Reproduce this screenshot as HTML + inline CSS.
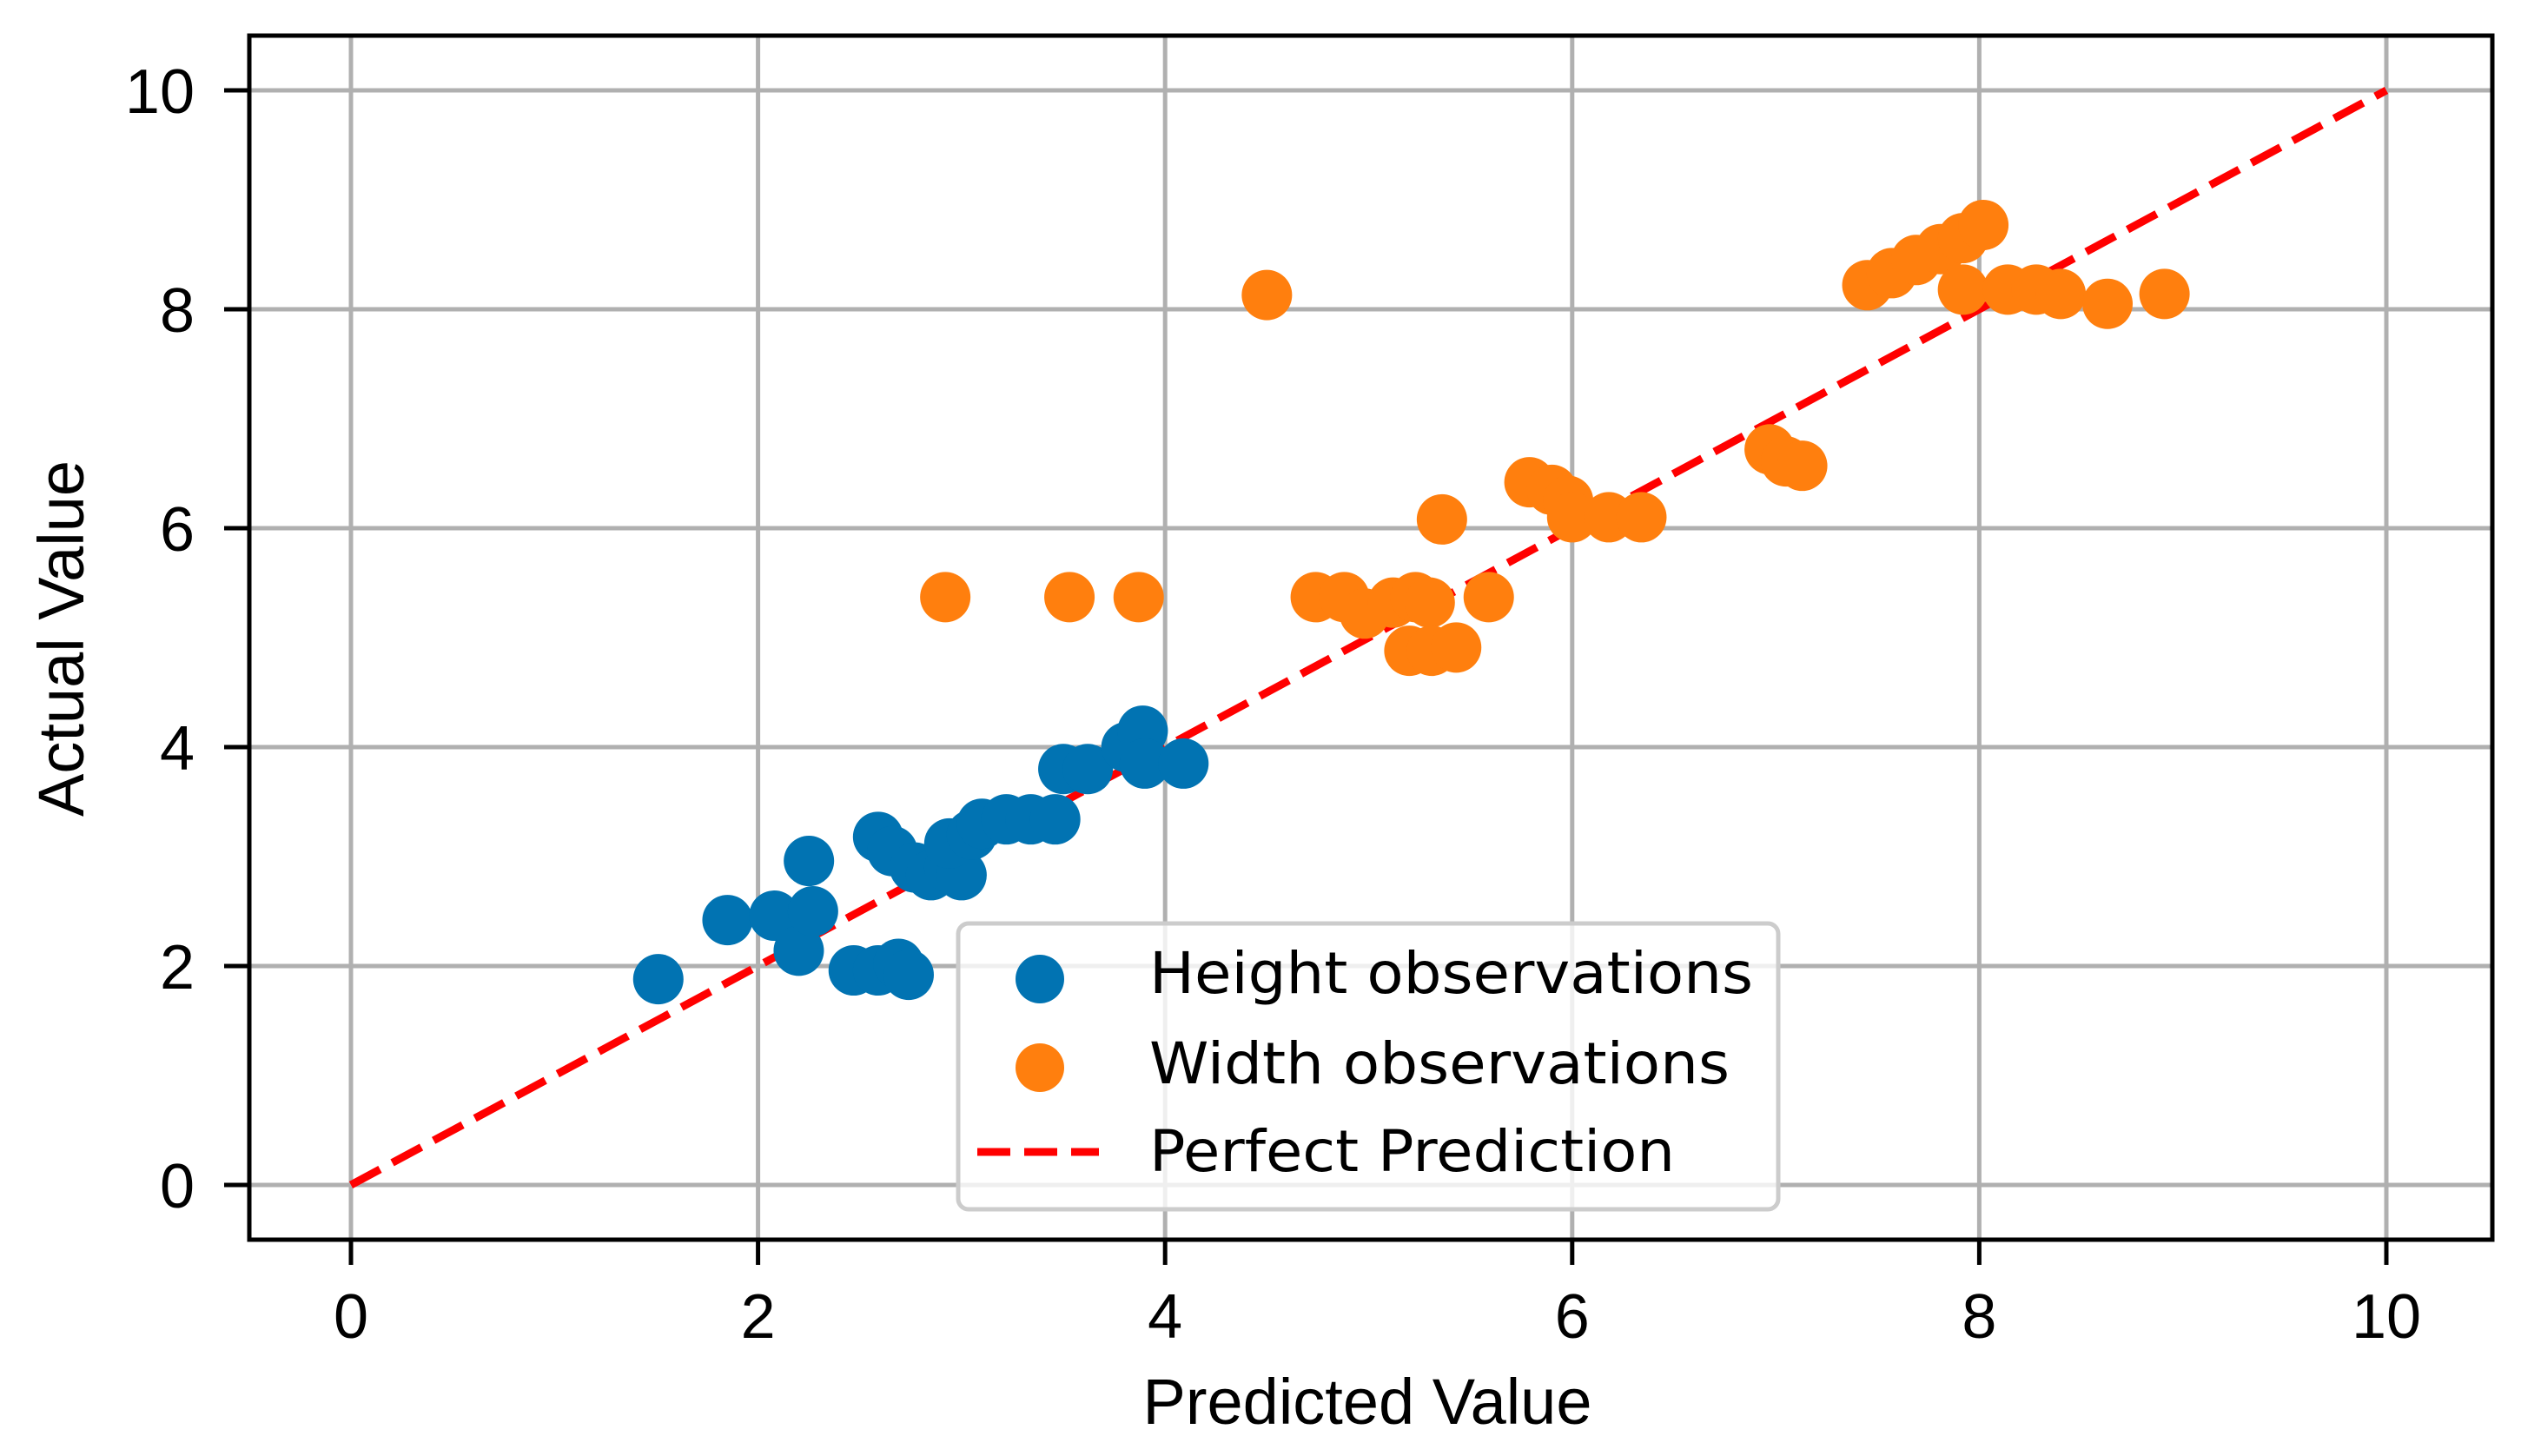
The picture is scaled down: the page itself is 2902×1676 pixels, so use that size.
<!DOCTYPE html>
<html><head><meta charset="utf-8"><style>
html,body{margin:0;padding:0;background:#fff;}
svg{display:block;}
text{font-family:"Liberation Sans",Arial,sans-serif;fill:#000;}
.leg{font-family:"DejaVu Sans","Liberation Sans",sans-serif;}
</style></head><body>
<svg id="chart" width="2902" height="1676" viewBox="0 0 2902 1676" xmlns="http://www.w3.org/2000/svg">
<g id="grid"></g>
<g id="line"></g>
<g id="pts"></g>
<rect x="287" y="41" width="2582" height="1386" fill="none" stroke="#000" stroke-width="5"/>
<g id="ticks"></g>
<text x="1574" y="1639" font-size="74" text-anchor="middle" textLength="517" lengthAdjust="spacingAndGlyphs">Predicted Value</text>
<text x="0" y="0" font-size="74" text-anchor="middle" transform="translate(96,735) rotate(-90)">Actual Value</text>
<g>
<rect x="1103" y="1063" width="944" height="329" rx="12" fill="#fff" fill-opacity="0.8" stroke="#ccc" stroke-width="5"/>
<circle cx="1197" cy="1127" r="28" fill="#0173b2"/>
<text class="leg" x="1323" y="1143" font-size="66" textLength="695" lengthAdjust="spacingAndGlyphs">Height observations</text>
<circle cx="1197" cy="1229" r="28" fill="#ff7f0e"/>
<text class="leg" x="1323" y="1247" font-size="66" textLength="668" lengthAdjust="spacingAndGlyphs">Width observations</text>
<line x1="1125" y1="1326" x2="1265" y2="1326" stroke="#ff0000" stroke-width="9" stroke-dasharray="38,16"/>
<text class="leg" x="1323" y="1348" font-size="66" textLength="605" lengthAdjust="spacingAndGlyphs">Perfect Prediction</text>
</g>
</svg>
<script>
const xTicks = [0, 2, 4, 6, 8, 10];
const yTicks = [0, 2, 4, 6, 8, 10];
const heightX = [1.51,1.85,2.08,2.2,2.27,2.25,2.47,2.59,2.69,2.74,2.59,2.66,2.77,2.85,2.94,3.0,2.94,3.05,3.1,3.22,3.34,3.46,3.5,3.62,3.81,3.89,3.9,4.09];
const heightY = [1.88,2.42,2.46,2.14,2.5,2.96,1.96,1.96,2.02,1.92,3.18,3.05,2.9,2.83,2.9,2.83,3.12,3.2,3.3,3.34,3.34,3.34,3.8,3.8,4.0,4.15,3.85,3.85];
const widthX = [4.5,2.92,3.53,3.87,4.74,4.88,4.98,5.12,5.23,5.3,5.2,5.31,5.43,5.59,5.36,5.79,5.9,5.98,6.0,6.18,6.34,6.97,7.05,7.13,7.45,7.57,7.69,7.81,7.92,8.02,7.92,8.14,8.28,8.4,8.63,8.91];
const widthY = [8.13,5.37,5.37,5.37,5.37,5.37,5.22,5.32,5.37,5.32,4.88,4.88,4.91,5.37,6.08,6.42,6.35,6.25,6.1,6.1,6.1,6.72,6.61,6.57,8.22,8.33,8.45,8.55,8.65,8.77,8.18,8.18,8.18,8.14,8.05,8.14];
const lineX = [0, 10];
const lineY = [0, 10];

const NS = "http://www.w3.org/2000/svg";
const X = v => 404 + v * 234.3;
const Y = v => 1364 - v * 126;
function mk(tag, attrs, parent){ const e=document.createElementNS(NS,tag); for(const k in attrs) e.setAttribute(k,attrs[k]); parent.appendChild(e); return e; }
const grid=document.getElementById('grid'), ticks=document.getElementById('ticks');
xTicks.forEach(t=>{
  const g=mk('line',{x1:X(t),x2:X(t),y1:41,y2:1427,stroke:'#b0b0b0','stroke-width':5},grid);
  
  
  const tk=mk('line',{x1:X(t),x2:X(t),y1:1427,y2:1456,stroke:'#000','stroke-width':5},ticks);
  
  
  const lb=mk('text',{x:X(t),y:1540,'font-size':72,'text-anchor':'middle'},ticks);
  lb.textContent=t;
  
  
});
yTicks.forEach(t=>{
  const g=mk('line',{x1:287,x2:2869,y1:Y(t),y2:Y(t),stroke:'#b0b0b0','stroke-width':5},grid);
  
  
  const tk=mk('line',{x1:258,x2:287,y1:Y(t),y2:Y(t),stroke:'#000','stroke-width':5},ticks);
  
  
  const lb=mk('text',{x:224,y:Y(t)+26,'font-size':72,'text-anchor':'end'},ticks);
  lb.textContent=t;
  
  
});
const pts=document.getElementById('pts');
heightX.forEach((v,i)=>{
  const c=mk('circle',{cx:X(v),cy:Y(heightY[i]),r:29,fill:'#0173b2'},pts);
  
  
});
widthX.forEach((v,i)=>{
  const c=mk('circle',{cx:X(v),cy:Y(widthY[i]),r:29,fill:'#ff7f0e'},pts);
  
  
});
const ln=mk('line',{x1:X(lineX[0]),y1:Y(lineY[0]),x2:X(lineX[1]),y2:Y(lineY[1]),stroke:'#ff0000','stroke-width':9,'stroke-dasharray':'38,16'},document.getElementById('line'));


</script>
</body></html>
